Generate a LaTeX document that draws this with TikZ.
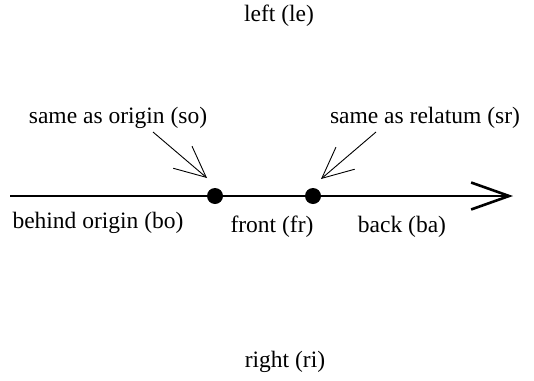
\documentclass[tikz,border=0pt]{standalone}
\usepackage{fontspec}
\setmainfont{Liberation Serif}
\usetikzlibrary{arrows.meta}
\begin{document}
\begin{tikzpicture}[x=1pt,y=-1pt,
  lbl/.style={font=\fontsize{23.5}{28}\selectfont, inner sep=0pt},
  dot/.style={circle, fill=black, minimum size=16pt, inner sep=0pt},
  pointer/.style={line width=0.9pt, -{Straight Barb[length=31pt,width=29pt]}},
  axis/.style={line width=2.6pt, -{Straight Barb[length=38pt,width=27pt]}}]
\useasboundingbox (0,0) rectangle (534,380);
\coordinate (start) at (10,196);
\coordinate (end) at (513,196);
\node[dot] (o) at (215,196) {};
\node[dot] (r) at (313,196) {};
\draw[axis] (start) -- (end);
\node[lbl] (so) at (118,118) {same as origin (so)};
\node[lbl] (sr) at (425,118) {same as relatum (sr)};
\coordinate (soa) at (153,132);
\coordinate (sot) at (207,178);
\coordinate (sra) at (376,132);
\coordinate (srt) at (321,179);
\draw[pointer] (soa) -- (sot);
\draw[pointer] (sra) -- (srt);
\node[lbl] (le) at (279,16) {left (le)};
\node[lbl] (ri) at (285,362) {right (ri)};
\node[lbl] (bo) at (98,223) {behind origin (bo)};
\node[lbl] (fr) at (272,227) {front (fr)};
\node[lbl] (ba) at (402,227) {back (ba)};
\end{tikzpicture}
\end{document}
